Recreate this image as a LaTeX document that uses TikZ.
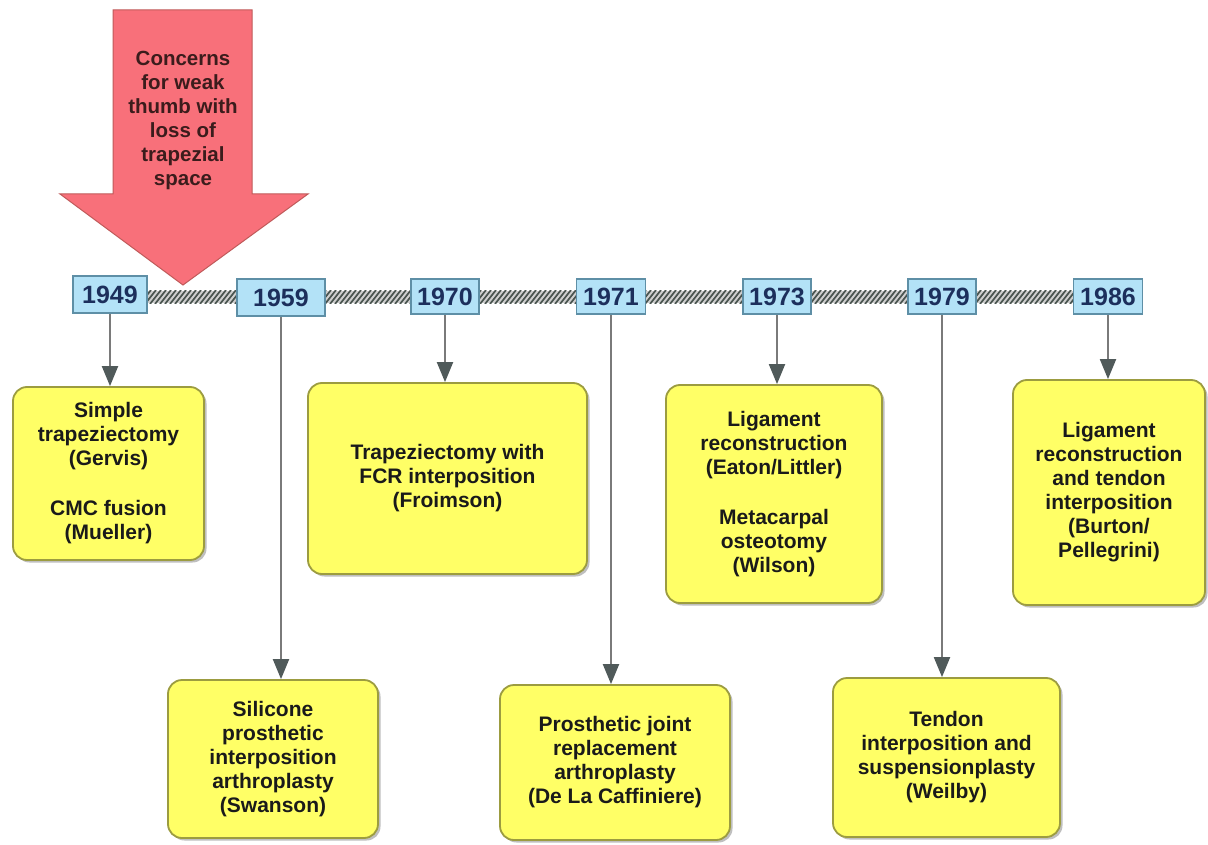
\documentclass[tikz,border=0pt]{standalone}
\usepackage{fontspec}
\setmainfont{Liberation Sans}
\usetikzlibrary{arrows.meta,shadows}
\definecolor{yfill}{HTML}{FFFF66}
\definecolor{yborder}{HTML}{9C9C40}
\definecolor{bfill}{HTML}{B3E2F7}
\definecolor{bborder}{HTML}{5E8FA6}
\definecolor{yeartext}{HTML}{1C2F5C}
\definecolor{linegray}{HTML}{7A7A7A}
\definecolor{tipgray}{HTML}{505A5A}
\definecolor{barbg}{HTML}{CFCFCF}
\definecolor{stripe}{HTML}{4A5550}
\definecolor{pinkfill}{HTML}{F8707A}
\definecolor{pinkborder}{HTML}{C05A5A}
\definecolor{arrowtext}{HTML}{3B1C1C}
\definecolor{boxtext}{HTML}{1A1A1A}
\begin{document}
\begin{tikzpicture}[x=1pt,y=-1pt,
  ybox/.style={draw=yborder, line width=1.8pt, fill=yfill, rounded corners=14pt,
    inner sep=0pt, align=center, text=boxtext,
    font=\fontsize{21}{24}\selectfont\bfseries,
    drop shadow={shadow xshift=2.5pt, shadow yshift=-2.5pt, fill=black, opacity=0.25}},
  yearbox/.style={draw=bborder, line width=1.5pt, fill=bfill, inner sep=0pt,
    minimum height=36pt, text=yeartext, font=\fontsize{25}{28}\selectfont\bfseries},
  conn/.style={draw=linegray, line width=2pt,
    -{Triangle[length=20pt,width=16pt,color=tipgray]}},
  arrowlabel/.style={align=center, text=arrowtext,
    font=\fontsize{20.5}{24}\selectfont\bfseries}
]
\useasboundingbox (0,0) rectangle (1208,845);
\fill[white] (0,0) rectangle (1208,845);

% hatched timeline bar
\begin{scope}
  \clip (147,291) rectangle (1074,303);
  \fill[barbg] (147,291) rectangle (1074,303);
  \foreach \i in {130,135,...,1080} \draw[stripe, line width=1.7pt] (\i,304) -- (\i+11,290);
\end{scope}

% pink arrow
\fill[pinkfill, draw=pinkborder, line width=1pt]
  (113,10) -- (252,10) -- (252,194) -- (308,194) -- (183,285) -- (60,194) -- (113,194) -- cycle;
\node[arrowlabel] (concern) at (183,120) {Concerns\\for weak\\thumb with\\loss of\\trapezial\\space};

% year boxes
\node[yearbox, minimum width=74pt, minimum height=37pt] (y1949) at (110,294.5) {1949};
\node[yearbox, minimum width=88pt, minimum height=37pt] (y1959) at (281,297.5) {1959};
\node[yearbox, minimum width=68pt, minimum height=35pt] (y1970) at (445,296.5) {1970};
\node[yearbox, minimum width=69pt, minimum height=35pt] (y1971) at (611,296.5) {1971};
\node[yearbox, minimum width=68pt, minimum height=35pt] (y1973) at (777,296.5) {1973};
\node[yearbox, minimum width=68pt, minimum height=35pt] (y1979) at (942,296.5) {1979};
\node[yearbox, minimum width=69pt, minimum height=35pt] (y1986) at (1108,296.5) {1986};

% event boxes
\node[ybox, minimum width=191pt, minimum height=173pt] (b1949) at (108.5,473.5)
  {Simple\\trapeziectomy\\(Gervis)\\[26pt]CMC fusion\\(Mueller)};
\node[ybox, minimum width=210pt, minimum height=158pt] (b1959) at (273,759)
  {Silicone\\prosthetic\\interposition\\arthroplasty\\(Swanson)};
\node[ybox, minimum width=279pt, minimum height=191pt] (b1970) at (447.5,478.5)
  {Trapeziectomy with\\FCR interposition\\(Froimson)};
\node[ybox, minimum width=230pt, minimum height=155pt] (b1971) at (615,762.5)
  {Prosthetic joint\\replacement\\arthroplasty\\(De La Caffiniere)};
\node[ybox, minimum width=216pt, minimum height=218pt] (b1973) at (774,494)
  {Ligament\\reconstruction\\(Eaton/Littler)\\[26pt]Metacarpal\\osteotomy\\(Wilson)};
\node[ybox, minimum width=227pt, minimum height=159pt] (b1979) at (946.5,757.5)
  {Tendon\\interposition and\\suspensionplasty\\(Weilby)};
\node[ybox, minimum width=192pt, minimum height=225pt] (b1986) at (1109,492.5)
  {Ligament\\reconstruction\\and tendon\\interposition\\(Burton/\\Pellegrini)};

% connectors
\draw[conn] (y1949.south) -- (y1949.south |- b1949.north);
\draw[conn] (y1959.south) -- (y1959.south |- b1959.north);
\draw[conn] (y1970.south) -- (y1970.south |- b1970.north);
\draw[conn] (y1971.south) -- (y1971.south |- b1971.north);
\draw[conn] (y1973.south) -- (y1973.south |- b1973.north);
\draw[conn] (y1979.south) -- (y1979.south |- b1979.north);
\draw[conn] (y1986.south) -- (y1986.south |- b1986.north);
\end{tikzpicture}
\end{document}
